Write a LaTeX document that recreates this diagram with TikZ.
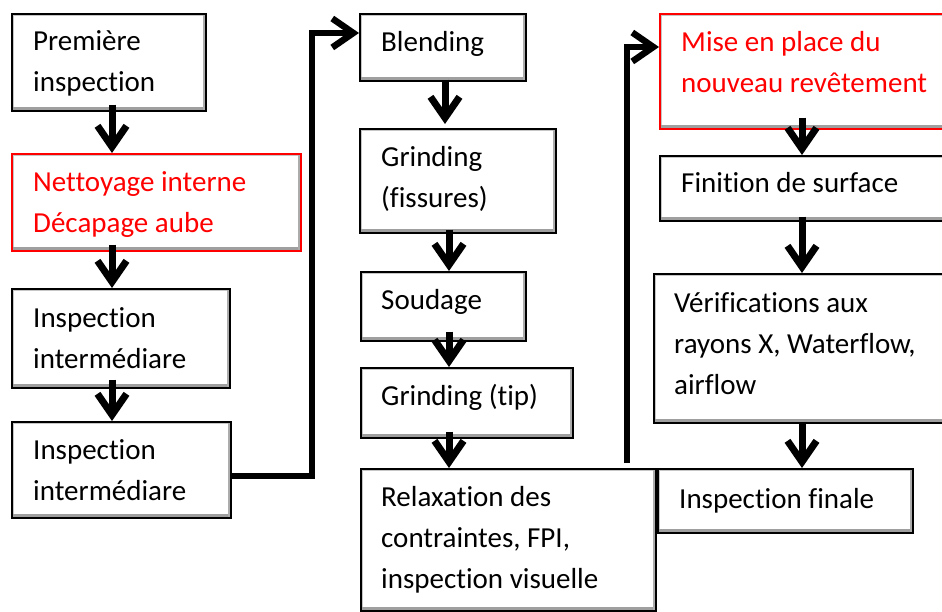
\documentclass[tikz,border=0pt]{standalone}
\usepackage{fontspec}
\setmainfont{Carlito}[Ligatures=NoCommon]
\usetikzlibrary{arrows.meta,calc}
\begin{document}
\begin{tikzpicture}[x=1pt,y=-1pt,
  box/.style={draw=#1, line width=1.6pt, fill=white, rectangle, inner sep=0pt, anchor=north west,
    path picture={
      \draw[gray!45, line width=5pt] (path picture bounding box.south west) rectangle (path picture bounding box.north east);
      \draw[gray!75, line width=7pt] (path picture bounding box.south west) -- (path picture bounding box.south east);
      \draw[gray!65, line width=5pt] (path picture bounding box.south east) -- (path picture bounding box.north east);
    }},
  box/.default=black,
  txt/.style={anchor=base west, align=left, inner sep=0pt, font=\fontsize{29}{41}\selectfont},
  arr/.style={line width=7pt, -{Straight Barb[length=21pt,width=29pt]}},
  link/.style={line width=6.5pt, -{Straight Barb[length=21pt,width=29pt]}, line join=miter}
]
\useasboundingbox (0,0) rectangle (942,612);
\clip (0,0) rectangle (942,612);

% left column
\node[box, minimum width=194pt, minimum height=97pt] (b1) at (11,13) {};
\node[box=red, minimum width=289pt, minimum height=97pt] (b2) at (11,153) {};
\node[box, minimum width=218pt, minimum height=99pt] (b3) at (11,288) {};
\node[box, minimum width=219pt, minimum height=96pt] (b4) at (11,421) {};
% middle column
\node[box, minimum width=166pt, minimum height=67pt] (b5) at (359,13) {};
\node[box, minimum width=196pt, minimum height=104pt] (b6) at (359,128) {};
\node[box, minimum width=165pt, minimum height=69pt] (b7) at (360,271) {};
\node[box, minimum width=212pt, minimum height=70pt] (b8) at (360,367) {};
\node[box, minimum width=295pt, minimum height=142pt] (b9) at (360,468) {};
% right column
\node[box=red, minimum width=300pt, minimum height=115pt] (b10) at (659,13) {};
\node[box, minimum width=300pt, minimum height=65pt] (b11) at (659,155) {};
\node[box, minimum width=305pt, minimum height=149pt] (b12) at (653,273) {};
\node[box, minimum width=255pt, minimum height=64pt] (b13) at (657,468) {};

% texts (base anchor = baseline of the last line)
\node[txt] (t1) at ($(b1.north west)+(22,79)$) {Première\\inspection};
\node[txt, text=red] (t2) at ($(b2.north west)+(22,80)$) {Nettoyage interne\\Décapage aube};
\node[txt] (t3) at ($(b3.north west)+(22,80)$) {Inspection\\intermédiare};
\node[txt] (t4) at ($(b4.north west)+(22,79)$) {Inspection\\intermédiare};
\node[txt] (t5) at ($(b5.north west)+(22,39)$) {Blending};
\node[txt] (t6) at ($(b6.north west)+(22,80)$) {Grinding\\(fissures)};
\node[txt] (t7) at ($(b7.north west)+(21,38)$) {Soudage};
\node[txt] (t8) at ($(b8.north west)+(21,38)$) {Grinding (tip)};
\node[txt] (t9) at ($(b9.north west)+(21,120)$) {Relaxation des\\contraintes, FPI,\\inspection visuelle};
\node[txt, text=red] (t10) at ($(b10.north west)+(22,80)$) {Mise en place du\\nouveau revêtement};
\node[txt] (t11) at ($(b11.north west)+(22,38)$) {Finition de surface};
\node[txt] (t12) at ($(b12.north west)+(21,121)$) {Vérifications aux\\rayons X, Waterflow,\\airflow};
\node[txt] (t13) at ($(b13.north west)+(22,40)$) {Inspection finale};

% column coordinates
\coordinate (xA) at (112,0);
\coordinate (xB1) at (445,0);
\coordinate (xB2) at (449,0);
\coordinate (xC) at (802,0);

% straight arrows
\draw[arr] ($(b1.south -| xA)+(0,-7)$) -- (b2.north -| xA);
\draw[arr] ($(b2.south -| xA)+(0,-7)$) -- (b3.north -| xA);
\draw[arr] ($(b3.south -| xA)+(0,-9)$) -- (b4.north -| xA);
\draw[arr] ($(b5.south -| xB1)+(0,-2)$) -- ($(b6.north -| xB1)+(0,-4)$);
\draw[arr] ($(b6.south -| xB2)+(0,-4)$) -- (b7.north -| xB2);
\draw[arr] ($(b7.south -| xB2)+(0,-10)$) -- (b8.north -| xB2);
\draw[arr] ($(b8.south -| xB2)+(0,-7)$) -- (b9.north -| xB2);
\draw[arr] ($(b10.south -| xC)+(0,-12)$) -- (b11.north -| xC);
\draw[arr] ($(b11.south -| xC)+(0,-5)$) -- (b12.north -| xC);
\draw[arr] ($(b12.south -| xC)+(0,-2)$) -- (b13.north -| xC);

% long connectors
\coordinate (c1a) at (312,476);
\coordinate (c1b) at (312,33);
\draw[link] (b4.east |- c1a) -- (c1a) -- (c1b) -- (b5.west |- c1b);
\coordinate (c2a) at (627,47);
\draw[link] ($(b9.north -| c2a)+(0,-5)$) -- (c2a) -- (b10.west |- c2a);
\end{tikzpicture}
\end{document}
